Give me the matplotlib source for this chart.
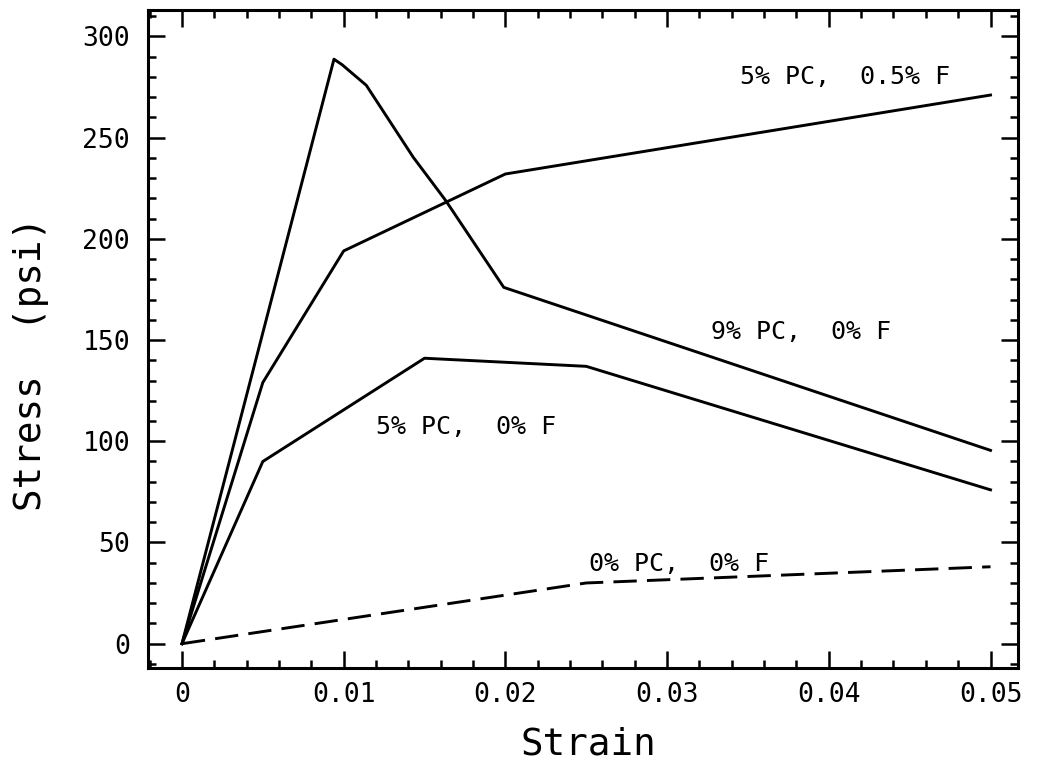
import matplotlib
matplotlib.use("Agg")
import matplotlib.pyplot as plt
from matplotlib.ticker import MultipleLocator

# Stress-strain curves for the four mixes
strain_9pc = [0.0, 0.0094, 0.0099, 0.0114, 0.0143, 0.0163, 0.0199, 0.05]
stress_9pc = [0.0, 288.7, 286.0, 275.8, 240.3, 219.0, 176.0, 95.5]

strain_5pc_05f = [0.0, 0.005, 0.01, 0.02, 0.05]
stress_5pc_05f = [0.0, 129.0, 194.0, 232.0, 271.0]

strain_5pc = [0.0, 0.005, 0.015, 0.025, 0.05]
stress_5pc = [0.0, 90.0, 141.0, 137.0, 76.0]

strain_0pc = [0.0, 0.025, 0.05]
stress_0pc = [0.0, 30.0, 38.0]

# Curve labels and their anchor points (strain, stress)
labels = ["5% PC,  0.5% F", "9% PC,  0% F", "5% PC,  0% F", "0% PC,  0% F"]
label_x = [0.0345, 0.0327, 0.0120, 0.0252]
label_y = [280.0, 154.0, 107.0, 39.5]

x_ticks = [0.0, 0.01, 0.02, 0.03, 0.04, 0.05]
x_tick_labels = ["0", "0.01", "0.02", "0.03", "0.04", "0.05"]
y_ticks = [0, 50, 100, 150, 200, 250, 300]

plt.rcParams["font.family"] = ["DejaVu Sans Mono"]

fig = plt.figure(figsize=(10.5, 7.66), dpi=100)
ax = fig.add_axes([148 / 1050, 98 / 766, 870 / 1050, 658 / 766])

lw = 2.1
ax.plot(strain_9pc, stress_9pc, color="black", lw=lw, solid_joinstyle="round")
ax.plot(strain_5pc_05f, stress_5pc_05f, color="black", lw=lw, solid_joinstyle="round")
ax.plot(strain_5pc, stress_5pc, color="black", lw=lw, solid_joinstyle="round")
ax.plot(strain_0pc, stress_0pc, color="black", lw=lw, linestyle=(0, (8, 3.5)))

for txt, tx, ty in zip(labels, label_x, label_y):
    ax.text(tx, ty, txt, ha="left", va="center", fontsize=18, color="black")

ax.set_xlim(-0.0021, 0.0517)
ax.set_ylim(-12, 313)

ax.set_xticks(x_ticks)
ax.set_xticklabels(x_tick_labels)
ax.set_yticks(y_ticks)
ax.xaxis.set_minor_locator(MultipleLocator(0.002))
ax.yaxis.set_minor_locator(MultipleLocator(10))

ax.tick_params(which="both", direction="in", top=True, right=True, width=1.8, color="black")
ax.tick_params(which="major", length=12)
ax.tick_params(which="minor", length=6)
ax.tick_params(axis="x", which="major", labelsize=19, pad=10)
ax.tick_params(axis="y", which="major", labelsize=19, pad=13)

for sp in ax.spines.values():
    sp.set_linewidth(2.2)
    sp.set_color("black")

ax.set_xlabel("Strain", fontsize=27, va="center")
ax.set_ylabel("Stress  (psi)", fontsize=27, va="center")
ax.xaxis.set_label_coords(0.506, -0.117)
ax.yaxis.set_label_coords(-0.134, 0.462)

fig.savefig("out.png", dpi=100, facecolor="white")
